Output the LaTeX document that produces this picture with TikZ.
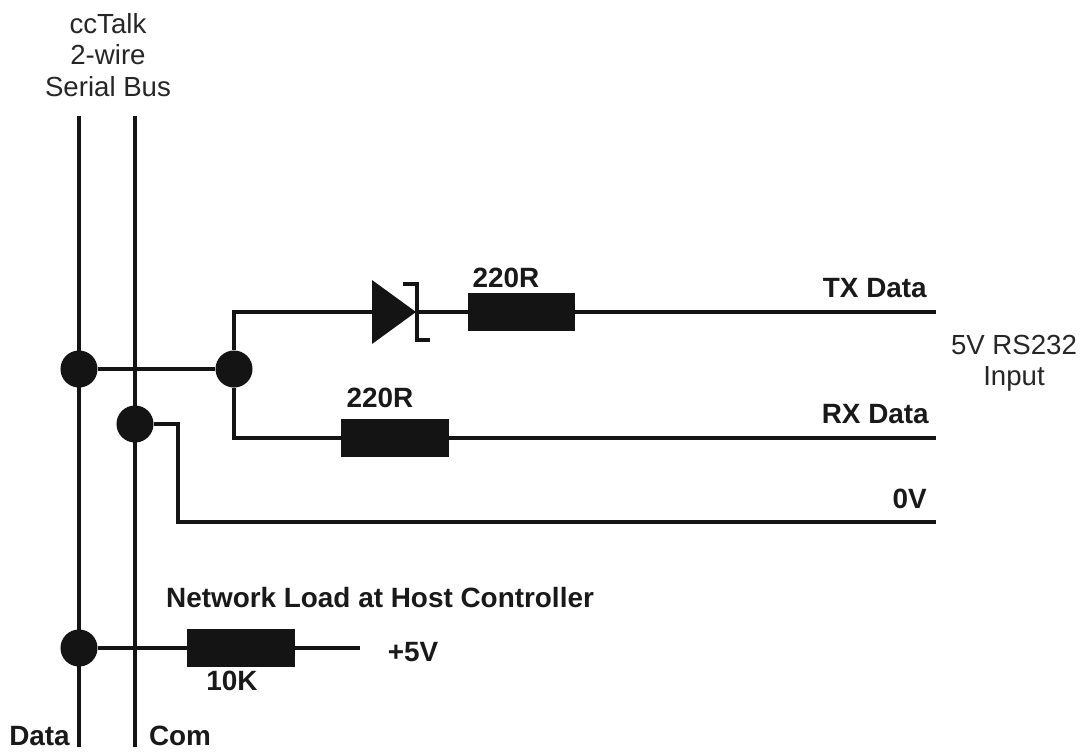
\documentclass[tikz,border=0pt]{standalone}
\usepackage{fontspec}
\setmainfont{Liberation Sans}
\begin{document}
\begin{tikzpicture}[x=0.0264583cm,y=-0.0264583cm,
  wire/.style={line width=3pt,black!92},
  barwire/.style={line width=2.3pt,black!92},
  jn/.style={circle,fill=black!92,inner sep=0pt,minimum size=0.98cm},
  res/.style={rectangle,fill=black!92,inner sep=0pt,minimum width=2.84cm,minimum height=0.98cm},
  lbl/.style={font=\fontsize{20.8}{23.5}\selectfont,inner sep=0pt,align=center,text=black!85},
  blbl/.style={font=\fontsize{21}{23}\selectfont\bfseries,inner sep=0pt,text=black!90}]
\useasboundingbox (0,0) rectangle (1089,751);
\node[jn] (j1) at (79,369) {};
\node[jn] (j2) at (234,369) {};
\node[jn] (j3) at (135,424) {};
\node[jn] (j4) at (79,648) {};
\coordinate (dtop) at (79,116);
\coordinate (dbot) at (79,747);
\coordinate (ctop) at (135,116);
\coordinate (cbot) at (135,747);
\draw[wire] (dtop) -- (dbot);
\draw[wire] (ctop) -- (cbot);
\draw[wire] (j1) -- (j2);
\node[res] (r1) at (521.5,312) {};
\node[res] (r2) at (395,438) {};
\node[res] (r3) at (241,648) {};
\coordinate (txend) at (936,312);
\coordinate (rxend) at (936,438);
\coordinate (zend) at (936,522);
\coordinate (vend) at (360,648);
\coordinate (tc) at (234,312);
\coordinate (rc) at (234,438);
\coordinate (z1) at (178,424);
\coordinate (z2) at (178,522);
\coordinate (da) at (373,312);
\coordinate (db) at (417,312);
\draw[wire] (j2) -- (tc) -- (da);
\draw[wire] (db) -- (r1);
\draw[wire] (r1) -- (txend);
\draw[wire] (j2) -- (rc) -- (r2);
\draw[wire] (r2) -- (rxend);
\draw[wire] (j3) -- (z1) -- (z2) -- (zend);
\draw[wire] (j4) -- (r3);
\draw[wire] (r3) -- (vend);
\fill[black!92] (372,280) -- (416,312) -- (372,344) -- cycle;
\draw[barwire] (403,284) -- (417,284) -- (417,340) -- (430,340);
\node[lbl] (title) at (108,55) {ccTalk\\2-wire\\Serial Bus};
\node[lbl] (inp) at (1014,363) {5V RS232\\Input};
\node[blbl] at (506,278) {220R};
\node[blbl] at (380,398) {220R};
\node[blbl,anchor=east] at (927,288) {TX Data};
\node[blbl,anchor=east] at (929,414.5) {RX Data};
\node[blbl,anchor=east] at (927,498.5) {0V};
\node[blbl] at (380,598) {Network Load at Host Controller};
\node[blbl] at (413,652) {+5V};
\node[blbl] at (232,681) {10K};
\node[blbl] at (39.5,736) {Data};
\node[blbl] at (180,736) {Com};
\end{tikzpicture}
\end{document}
